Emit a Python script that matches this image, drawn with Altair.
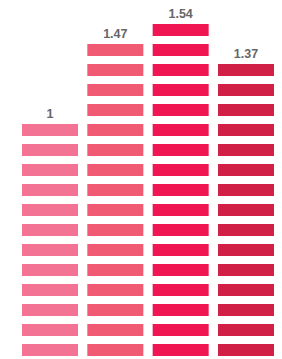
import altair as alt
import pandas as pd

categories = ["A", "B", "C", "D"]
values = [1, 1.47, 1.54, 1.37]
segments = [12, 16, 17, 15]
colors = ["#F27394", "#F05A72", "#EF1651", "#D12046"]

rows = []
for c, n in zip(categories, segments):
    for i in range(n):
        rows.append({"cat": c, "i": i, "i2": i + 0.6})
seg_df = pd.DataFrame(rows)
lab_df = pd.DataFrame({
    "cat": categories,
    "top": [n - 0.4 for n in segments],
    "label": [f"{v:g}" for v in values],
})

xscale = alt.Scale(domain=categories, paddingInner=0.1429, paddingOuter=0.1071, align=1)
yscale = alt.Scale(domain=[0, 17.4], nice=False, zero=True)
cscale = alt.Scale(domain=categories, range=colors)

bars = alt.Chart(seg_df).mark_rect().encode(
    x=alt.X("cat:N", scale=xscale, axis=None),
    y=alt.Y("i:Q", scale=yscale, axis=None),
    y2="i2:Q",
    color=alt.Color("cat:N", scale=cscale, legend=None),
)

labels = alt.Chart(lab_df).mark_text(
    dy=-6, baseline="alphabetic", fontWeight="bold", fontSize=12.5,
    font="Liberation Sans", color="#666666",
).encode(
    x=alt.X("cat:N", scale=xscale, axis=None),
    y=alt.Y("top:Q", scale=yscale, axis=None),
    text="label:N",
)

chart = alt.layer(bars, labels).properties(
    width=266, height=348, padding=0, autosize="none"
).configure_view(stroke=None)

chart.save("out.html", embed_options={"renderer": "svg", "actions": False})
